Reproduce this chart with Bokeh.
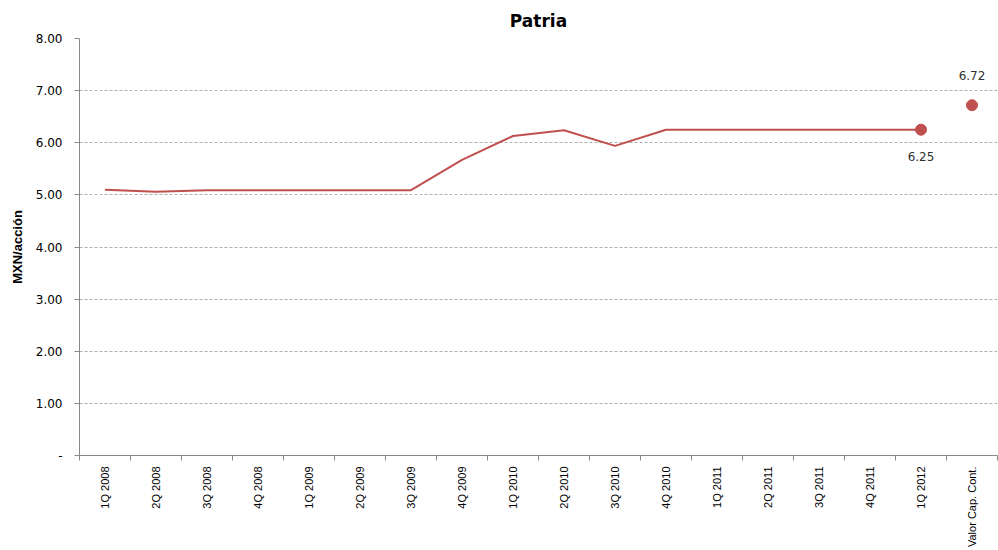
import numpy as np
from bokeh.plotting import figure
from bokeh.models import FixedTicker, Range1d, ColumnDataSource, LabelSet, Title
from bokeh.core.properties import value
from bokeh.embed import file_html
from bokeh.resources import INLINE

categories = ["1Q 2008", "2Q 2008", "3Q 2008", "4Q 2008", "1Q 2009", "2Q 2009",
              "3Q 2009", "4Q 2009", "1Q 2010", "2Q 2010", "3Q 2010", "4Q 2010",
              "1Q 2011", "2Q 2011", "3Q 2011", "4Q 2011", "1Q 2012", "Valor Cap. Cont."]
line_values = [5.10, 5.06, 5.09, 5.09, 5.09, 5.09, 5.09, 5.67, 6.13, 6.24, 5.94, 6.25,
               6.25, 6.25, 6.25, 6.25, 6.25]
point_cats = ["1Q 2012", "Valor Cap. Cont."]
point_values = [6.25, 6.72]
point_labels = ["6.25", "6.72"]
y_ticks = [0, 1, 2, 3, 4, 5, 6, 7, 8]

RED = "#C0504D"
n = len(categories)
xpos = {c: i + 0.5 for i, c in enumerate(categories)}

p = figure(width=998, height=550, output_backend="svg", toolbar_location=None,
           x_range=Range1d(0, n), y_range=Range1d(0, 8),
           min_border_left=79, min_border_right=1, min_border_top=38, min_border_bottom=90)
p.outline_line_color = None
p.background_fill_color = "white"

p.title = Title(text="Patria", align="center", text_font="DejaVu Sans",
                text_font_size="17px", text_font_style="bold", text_color="#000000",
                offset=0, standoff=16)

# x axis
p.xaxis.ticker = FixedTicker(ticks=[xpos[c] for c in categories],
                             minor_ticks=list(range(0, n + 1)))
p.xaxis.major_label_overrides = {xpos[c]: c for c in categories}
p.xaxis.major_label_orientation = np.pi / 2
p.xaxis.major_tick_line_color = None
p.xaxis.major_tick_in = 0
p.xaxis.major_tick_out = 0
p.xaxis.minor_tick_line_color = "#888888"
p.xaxis.minor_tick_in = 0
p.xaxis.minor_tick_out = 5
p.xaxis.axis_line_color = "#888888"
p.xaxis.major_label_text_font = "Liberation Sans Narrow, Liberation Sans"
p.xaxis.major_label_text_font_size = "11px"
p.xaxis.major_label_text_color = "#000000"
p.xaxis.major_label_standoff = 6

# y axis
p.yaxis.ticker = FixedTicker(ticks=y_ticks)
p.yaxis.major_label_overrides = {t: ("-" if t == 0 else f"{t:.2f}") for t in y_ticks}
p.yaxis.axis_line_color = "#888888"
p.yaxis.major_tick_line_color = "#888888"
p.yaxis.major_tick_in = 0
p.yaxis.major_tick_out = 5
p.yaxis.minor_tick_line_color = None
p.yaxis.major_label_text_font = "DejaVu Sans"
p.yaxis.major_label_text_font_size = "12px"
p.yaxis.major_label_text_color = "#000000"
p.yaxis.major_label_standoff = 12
p.yaxis.axis_label = "MXN/acción"
p.yaxis.axis_label_text_font = "Liberation Sans Narrow, Liberation Sans"
p.yaxis.axis_label_text_font_style = "bold"
p.yaxis.axis_label_text_font_size = "13px"
p.yaxis.axis_label_text_color = "#000000"
p.yaxis.axis_label_standoff = 8

p.xgrid.grid_line_color = None
p.ygrid.grid_line_color = "#B0B0B0"
p.ygrid.grid_line_dash = "3 2"
p.ygrid.grid_line_width = 1

line_src = ColumnDataSource(dict(x=[xpos[c] for c in categories[:len(line_values)]],
                                 y=line_values))
p.line("x", "y", source=line_src, line_color=RED, line_width=2)

pt_src = ColumnDataSource(dict(x=[xpos[c] for c in point_cats], y=point_values,
                               label=point_labels,
                               yoff=[-27, 30]))
p.scatter("x", "y", source=pt_src, size=11, fill_color=RED, line_color=RED)
labels = LabelSet(x="x", y="y", text="label", source=pt_src, y_offset="yoff",
                  text_align="center", text_baseline="middle",
                  text_font=value("DejaVu Sans"), text_font_size=value("12px"),
                  text_color="#303030")
p.add_layout(labels)

open("out.html", "w").write(file_html(p, INLINE))
